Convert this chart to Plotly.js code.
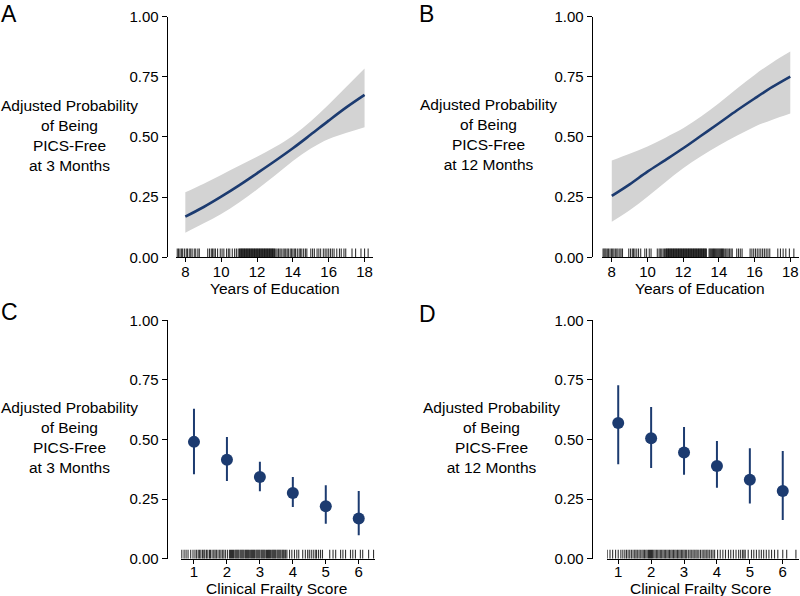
<!DOCTYPE html>
<html>
<head>
<meta charset="utf-8">
<script src="https://cdn.plot.ly/plotly-3.0.1.min.js"></script>
<style>html,body{margin:0;padding:0;background:#fff;}#chart{width:800px;height:596px;}</style>
</head>
<body>
<div id="chart"></div>
<script>
// ---- Data ----
const eduYears = [8, 9, 10, 11, 12, 13, 14, 15, 16, 17, 18];
const fit3m   = [0.169, 0.208, 0.252, 0.299, 0.349, 0.400, 0.453, 0.510, 0.568, 0.624, 0.675];
const lo3m    = [0.102, 0.140, 0.180, 0.228, 0.282, 0.340, 0.400, 0.452, 0.492, 0.518, 0.541];
const hi3m    = [0.270, 0.305, 0.342, 0.380, 0.418, 0.458, 0.505, 0.565, 0.635, 0.710, 0.785];
const fit12m  = [0.255, 0.303, 0.356, 0.404, 0.453, 0.505, 0.557, 0.610, 0.660, 0.708, 0.751];
const lo12m   = [0.148, 0.196, 0.252, 0.312, 0.370, 0.420, 0.465, 0.505, 0.543, 0.572, 0.598];
const hi12m   = [0.402, 0.430, 0.460, 0.497, 0.536, 0.585, 0.640, 0.700, 0.758, 0.810, 0.855];

const cfsScore = [1, 2, 3, 4, 5, 6];
const est3m  = [0.490, 0.415, 0.343, 0.276, 0.220, 0.169];
const cfsLo3m = [0.354, 0.326, 0.283, 0.217, 0.147, 0.098];
const cfsHi3m = [0.629, 0.510, 0.407, 0.343, 0.308, 0.284];
const est12m = [0.569, 0.505, 0.445, 0.389, 0.331, 0.284];
const cfsLo12m = [0.396, 0.380, 0.352, 0.298, 0.231, 0.162];
const cfsHi12m = [0.727, 0.636, 0.552, 0.494, 0.463, 0.452];

const rugEdu3m = [7.55,7.62,7.70,7.78,7.85,7.95,8.05,8.12,8.22,8.30,8.38,8.50,8.58,8.70,8.78,
  9.25,9.35,9.45,9.52,9.60,9.68,9.80,9.95,10.05,10.15,10.30,10.40,10.48,10.62,10.75,10.85,10.95,
  11.02,11.06,11.10,11.14,11.18,11.22,11.26,11.30,11.34,11.38,11.42,11.46,11.50,11.54,11.58,11.62,11.66,11.70,
  11.74,11.78,11.82,11.86,11.90,11.94,11.98,12.02,12.06,12.10,12.14,12.18,12.22,12.26,12.30,12.34,12.38,12.42,
  12.46,12.50,12.54,12.58,12.62,12.66,12.70,12.74,12.78,12.82,12.86,12.90,12.94,12.98,
  13.05,13.12,13.20,13.28,13.35,13.45,13.52,13.60,13.68,13.75,13.85,13.92,14.00,14.08,14.15,14.25,14.35,14.42,14.50,14.60,14.70,14.78,
  15.00,15.10,15.20,15.35,15.45,15.55,15.70,15.80,15.90,16.00,16.10,16.20,16.30,16.45,16.60,16.70,16.85,16.95,
  17.30,17.50,17.80,18.00,18.20];
const rugEdu12m = [7.50,7.56,7.62,7.68,7.75,7.82,7.90,7.98,8.05,8.12,8.20,8.28,8.35,8.45,8.52,8.60,
  8.95,9.05,9.15,9.22,9.30,9.40,9.50,9.62,9.85,9.95,10.10,10.20,10.55,10.65,10.72,10.80,10.88,10.95,
  11.02,11.06,11.10,11.14,11.18,11.22,11.26,11.30,11.34,11.38,11.42,11.46,11.50,11.54,11.58,11.62,11.66,11.70,
  11.74,11.78,11.82,11.86,11.90,11.94,11.98,12.02,12.06,12.10,12.14,12.18,12.22,12.26,12.30,12.34,12.38,12.42,
  12.46,12.50,12.54,12.58,12.62,12.66,12.70,12.74,12.78,12.82,12.86,12.90,12.94,12.98,
  13.02,13.06,13.10,13.14,13.18,13.22,13.26,13.30,13.45,13.50,13.55,13.60,13.65,13.70,13.75,13.80,13.85,13.90,
  13.95,14.00,14.05,14.10,14.15,14.20,14.25,14.30,14.38,14.45,14.52,14.60,14.68,14.75,
  15.00,15.10,15.20,15.30,15.75,15.85,15.95,16.05,16.15,16.25,16.35,16.45,16.55,16.65,16.75,16.85,
  17.30,17.45,17.60,17.75,17.95,18.20];
const rugCfs3m = [0.63,0.70,0.76,0.82,0.90,0.97,1.03,1.08,
  1.13,1.17,1.21,1.26,1.30,1.33,1.38,1.42,1.47,1.50,1.55,1.60,1.64,1.68,1.73,1.78,1.82,1.87,1.91,1.96,2.02,
  2.08,2.11,2.14,2.17,2.20,2.24,2.27,2.30,2.33,2.36,2.40,2.43,2.46,2.49,2.52,2.56,2.59,2.62,2.65,2.68,2.72,
  2.75,2.78,2.81,2.84,2.88,2.91,2.94,2.97,3.00,3.04,3.07,3.10,3.13,3.16,3.20,3.23,3.26,3.29,3.32,3.36,3.39,
  3.42,3.45,3.48,3.52,3.55,3.58,3.61,3.64,3.68,3.71,3.74,3.78,3.82,
  3.90,3.97,4.05,4.12,4.18,4.30,4.38,4.45,4.50,4.56,4.62,4.68,4.72,4.78,4.84,4.90,
  5.12,5.22,5.30,5.45,5.52,5.60,5.75,5.82,5.90,6.05,6.12,6.30,6.45];
const rugCfs12m = [0.67,0.75,0.83,0.92,1.00,1.08,1.14,1.20,1.25,1.30,1.35,1.40,1.45,1.50,1.54,1.58,1.63,1.67,
  1.72,1.76,1.80,1.84,1.88,
  1.92,1.95,1.98,2.01,2.04,2.08,2.12,2.16,2.20,2.24,2.28,2.32,2.36,2.40,2.44,2.48,2.52,2.56,2.60,2.64,2.68,
  2.72,2.76,2.80,2.84,2.88,2.92,2.96,3.00,3.04,3.08,
  3.13,3.18,3.22,3.27,3.31,3.36,3.40,3.45,3.50,3.55,3.60,3.64,3.69,3.73,3.78,3.83,3.88,3.93,
  4.02,4.10,4.18,4.26,4.35,4.42,4.50,4.58,4.66,4.72,4.78,4.82,4.86,
  4.95,5.05,5.12,5.20,5.28,5.35,5.42,5.50,5.58,5.66,5.75,5.85,6.00,6.12,6.40];

const eduTicks = [8, 10, 12, 14, 16, 18];
const probTicks = [0, 0.25, 0.5, 0.75, 1];
const yTitle3m = 'Adjusted Probability<br>of Being<br>PICS-Free<br>at 3 Months';
const yTitle12m = 'Adjusted Probability<br>of Being<br>PICS-Free<br>at 12 Months';
const xTitleEdu = 'Years of Education';
const xTitleCfs = 'Clinical Frailty Score';

// ---- Styles ----
const NAVY = '#1c3b70';
const BAND = '#d3d3d3';
const FONT = '"Liberation Sans", Arial, Helvetica, sans-serif';
const RUG_H = 0.037;
const TICK_SIZE = 15;
const TITLE_SIZE = 15.5;

function rugTrace(vals, xa, ya) {
  const x = [], y = [];
  vals.forEach(v => { x.push(v, v, null); y.push(0, RUG_H, null); });
  return {x, y, xaxis: xa, yaxis: ya, mode: 'lines', type: 'scatter',
    line: {color: 'rgba(0,0,0,0.8)', width: 1.1}, hoverinfo: 'skip', showlegend: false};
}
function ribbon(xs, lo, hi, xa, ya) {
  return [
    {x: xs, y: lo, xaxis: xa, yaxis: ya, mode: 'lines', type: 'scatter',
      line: {width: 0, shape: 'spline', color: BAND}, showlegend: false, hoverinfo: 'skip'},
    {x: xs, y: hi, xaxis: xa, yaxis: ya, mode: 'lines', type: 'scatter', fill: 'tonexty',
      fillcolor: BAND, line: {width: 0, shape: 'spline', color: BAND}, showlegend: false, hoverinfo: 'skip'}
  ];
}
function curve(xs, ys, xa, ya) {
  return {x: xs, y: ys, xaxis: xa, yaxis: ya, mode: 'lines', type: 'scatter',
    line: {color: NAVY, width: 2.6, shape: 'spline'}, showlegend: false};
}
function points(xs, est, lo, hi, xa, ya) {
  return {x: xs, y: est, xaxis: xa, yaxis: ya, mode: 'markers', type: 'scatter',
    marker: {color: NAVY, size: 12},
    error_y: {type: 'data', symmetric: false,
      array: hi.map((h, i) => h - est[i]), arrayminus: est.map((e, i) => e - lo[i]),
      color: NAVY, thickness: 2, width: 0},
    showlegend: false};
}

const data = [
  ...ribbon(eduYears, lo3m, hi3m, 'x', 'y'),
  curve(eduYears, fit3m, 'x', 'y'),
  rugTrace(rugEdu3m, 'x', 'y'),
  ...ribbon(eduYears, lo12m, hi12m, 'x2', 'y2'),
  curve(eduYears, fit12m, 'x2', 'y2'),
  rugTrace(rugEdu12m, 'x2', 'y2'),
  points(cfsScore, est3m, cfsLo3m, cfsHi3m, 'x3', 'y3'),
  rugTrace(rugCfs3m, 'x3', 'y3'),
  points(cfsScore, est12m, cfsLo12m, cfsHi12m, 'x4', 'y4'),
  rugTrace(rugCfs12m, 'x4', 'y4')
];

function xAxis(domain, range, tickvals, anchor, standoff) {
  return {domain, range, anchor, tickvals, showline: true, linecolor: '#000', linewidth: 1.2,
    ticks: 'outside', ticklen: 4, tickwidth: 1, tickcolor: '#000', showgrid: false, zeroline: false,
    ticklabelstandoff: standoff,
    tickfont: {family: FONT, size: TICK_SIZE, color: '#000'}};
}
function yAxis(domain, position) {
  return {domain, range: [0, 1], anchor: 'free', position, tickvals: probTicks, tickformat: '.2f',
    showline: true, linecolor: '#000', linewidth: 1.2, ticks: 'outside', ticklen: 5, tickwidth: 1,
    tickcolor: '#000', showgrid: false, zeroline: false,
    tickfont: {family: FONT, size: TICK_SIZE, color: '#000'}};
}

const topDom = [0.5683, 0.972];
const botDom = [0.0626, 0.4626];

function label(text, x, y, size, align, vAnchor) {
  return {text, x, y, xref: 'paper', yref: 'paper', showarrow: false, xanchor: align || 'center',
    yanchor: vAnchor || 'middle', align: 'center', borderpad: 0,
    font: {family: FONT, size, color: '#000'}};
}

const layout = {
  width: 800, height: 596,
  margin: {l: 0, r: 0, t: 0, b: 0},
  paper_bgcolor: '#fff', plot_bgcolor: '#fff',
  showlegend: false,
  xaxis: xAxis([0.22, 0.466], [7.48, 18.46], eduTicks, 'y', -3),
  yaxis: yAxis(topDom, 0.2084),
  xaxis2: xAxis([0.7529, 0.999], [7.47, 18.5], eduTicks, 'y2', -3),
  yaxis2: yAxis(topDom, 0.7396),
  xaxis3: xAxis([0.226, 0.469], [0.6, 6.5], cfsScore, 'y3', -5),
  yaxis3: yAxis(botDom, 0.2084),
  xaxis4: xAxis([0.759, 0.999], [0.665, 6.5], cfsScore, 'y4', -5),
  yaxis4: yAxis(botDom, 0.7396),
  annotations: [
    label('A', 0.0, 1.0, 23, 'left', 'top'),
    label('B', 0.523, 1.0, 23, 'left', 'top'),
    label('C', 0.0, 1 - 298 / 596, 23, 'left', 'top'),
    label('D', 0.523, 1 - 300 / 596, 23, 'left', 'top'),
    label(yTitle3m, 69 / 800, 1 - 135.8 / 596, TITLE_SIZE),
    label(yTitle12m, 489 / 800, 1 - 134 / 596, TITLE_SIZE),
    label(yTitle3m, 69 / 800, 1 - 437.9 / 596, TITLE_SIZE),
    label(yTitle12m, 491 / 800, 1 - 437.9 / 596, TITLE_SIZE),
    label(xTitleEdu, 274.5 / 800, 1 - 288 / 596, TITLE_SIZE),
    label(xTitleEdu, 700 / 800, 1 - 288 / 596, TITLE_SIZE),
    label(xTitleCfs, 276 / 800, 1 - 588.5 / 596, TITLE_SIZE),
    label(xTitleCfs, 700 / 800, 1 - 588.5 / 596, TITLE_SIZE)
  ]
};

Plotly.newPlot('chart', data, layout, {displayModeBar: false, staticPlot: true});
</script>
</body>
</html>
